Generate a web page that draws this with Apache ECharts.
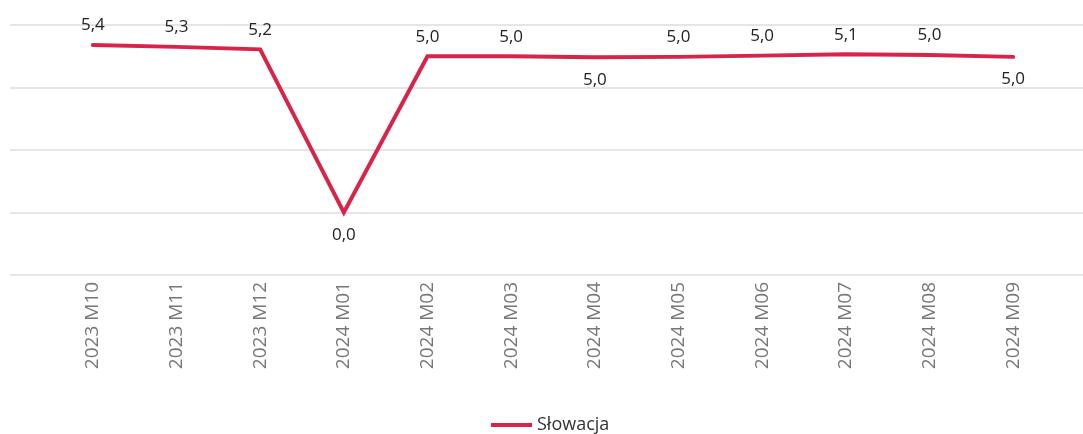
<!DOCTYPE html>
<html>
<head>
<meta charset="utf-8">
<script src="https://cdn.jsdelivr.net/npm/echarts@6/dist/echarts.min.js"></script>
<style>
  html, body { margin: 0; padding: 0; background: #fff; }
  #chart { width: 1083px; height: 434px; }
</style>
</head>
<body>
<div id="chart"></div>
<script>
var months = ['2023 M10', '2023 M11', '2023 M12', '2024 M01', '2024 M02', '2024 M03',
              '2024 M04', '2024 M05', '2024 M06', '2024 M07', '2024 M08', '2024 M09'];
var slovakia = [5.36, 5.3, 5.22, 0.0, 5.0, 5.0, 4.97, 4.98, 5.02, 5.06, 5.04, 4.98];
// months whose value label sits under the line
var labelsBelow = ['2024 M01', '2024 M04', '2024 M09'];

var yMin = -2, yMax = 6, yStep = 2;
var font = '"Open Sans", "Noto Sans", sans-serif';

var chartDom = document.getElementById('chart');
var myChart = echarts.init(chartDom, null, { renderer: 'canvas' });

var seriesData = slovakia.map(function (v, i) {
    var below = labelsBelow.indexOf(months[i]) >= 0;
    return {
        value: v,
        label: { position: below ? 'bottom' : 'top', distance: below ? 14 : 11 }
    };
});

var option = {
    animation: false,
    grid: [
        // background grid: horizontal lines across the whole width
        { left: 10, right: 0, top: 25, height: 250 },
        // plot grid
        { left: 51, width: 1004, top: 25, height: 250 }
    ],
    legend: {
        data: ['Słowacja'],
        left: 486,
        top: 411,
        icon: 'rect',
        itemWidth: 41,
        itemHeight: 4,
        itemGap: 11,
        textStyle: { fontFamily: font, fontSize: 18, color: '#333' }
    },
    xAxis: [
        { gridIndex: 0, type: 'value', min: 0, max: 1, show: false },
        {
            gridIndex: 1,
            type: 'category',
            data: months,
            boundaryGap: true,
            axisLine: { show: false },
            axisTick: { show: false },
            axisLabel: {
                rotate: 90,
                margin: 7,
                color: '#777',
                fontFamily: font,
                fontSize: 19
            }
        }
    ],
    yAxis: [
        {
            gridIndex: 0,
            type: 'value',
            min: yMin, max: yMax, interval: yStep,
            axisLabel: { show: false },
            axisLine: { show: false },
            axisTick: { show: false },
            splitLine: { lineStyle: { color: '#dcdcdc', width: 1.5 } }
        },
        {
            gridIndex: 1,
            type: 'value',
            min: yMin, max: yMax, interval: yStep,
            axisLabel: { show: false },
            axisLine: { show: false },
            axisTick: { show: false },
            splitLine: { show: false }
        }
    ],
    series: [
        {
            name: 'Słowacja',
            type: 'line',
            xAxisIndex: 1,
            yAxisIndex: 1,
            data: seriesData,
            showSymbol: true,
            symbol: 'circle',
            symbolSize: 0.1,
            color: '#d7244a',
            lineStyle: { width: 4, color: '#d7244a', cap: 'round', join: 'miter' },
            label: {
                show: true,
                color: '#222',
                fontFamily: font,
                fontSize: 17,
                formatter: function (p) {
                    return p.value.toFixed(1).replace('.', ',');
                }
            }
        }
    ]
};

option && myChart.setOption(option);
</script>
</body>
</html>
